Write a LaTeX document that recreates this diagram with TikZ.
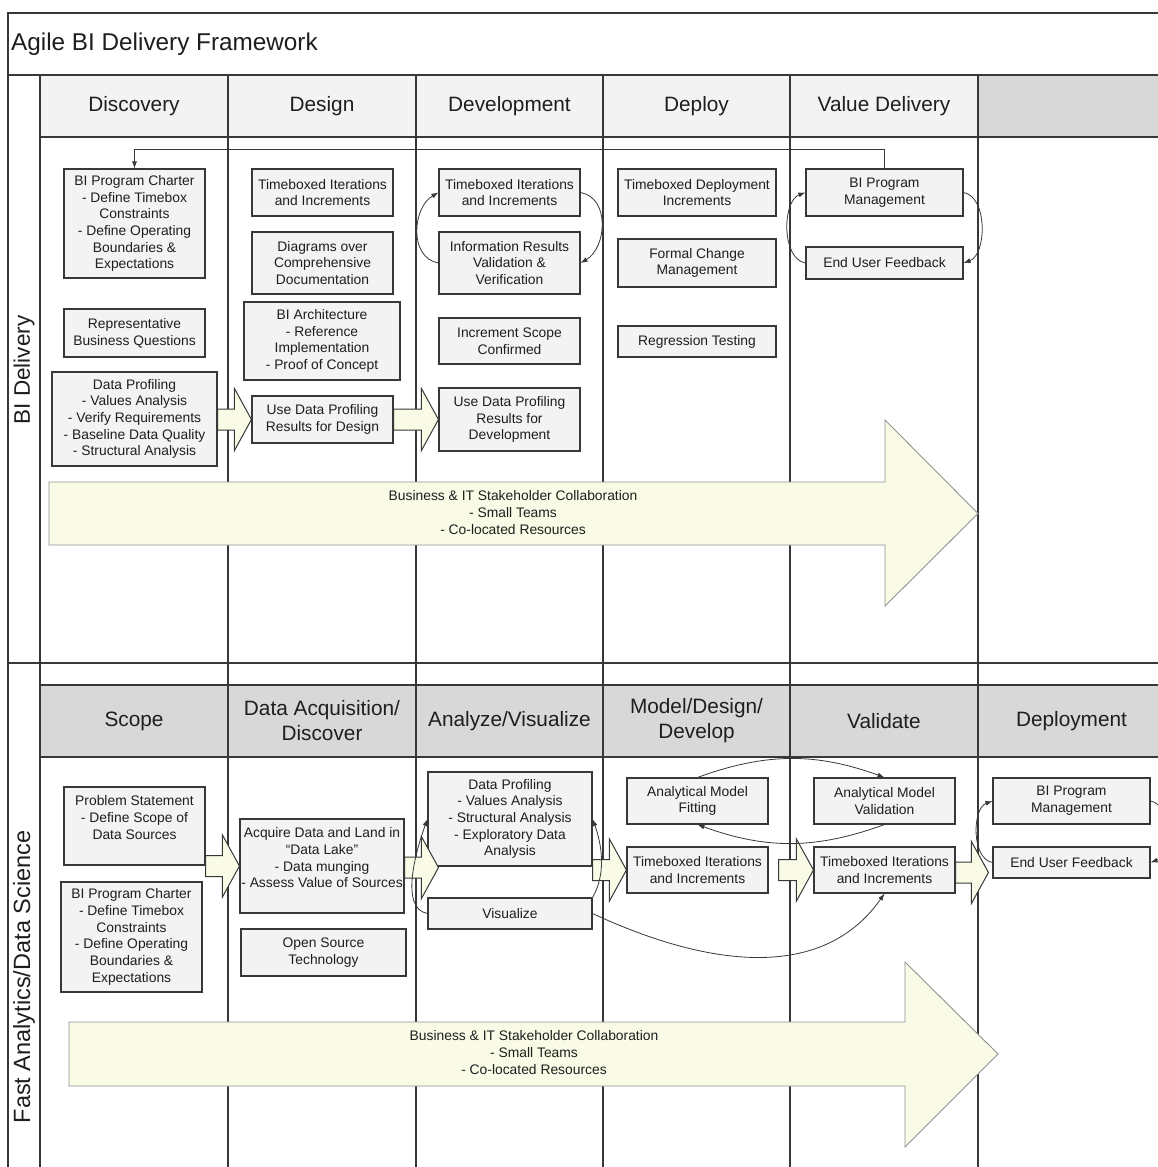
\documentclass[tikz,border=0pt]{standalone}
\usepackage{fontspec}
\setmainfont{Liberation Sans}
\usetikzlibrary{arrows.meta,calc}

\definecolor{hdrlight}{HTML}{F3F3F3}
\definecolor{hdrdark}{HTML}{D8D8D8}
\definecolor{boxfill}{HTML}{F3F3F3}
\definecolor{cream}{HTML}{F9FBE6}
\definecolor{ink}{HTML}{1E1E1E}
\definecolor{rule}{HTML}{383838}

\begin{document}
\begin{tikzpicture}[x=1pt,y=-1pt,
  frame/.style={draw=rule,line width=1.4pt},
  card/.style 2 args={draw=rule,fill=boxfill,line width=1.1pt,minimum width=#1pt,minimum height=#2pt,
    inner sep=0pt,align=center,text=ink,font=\fontsize{13.85}{16.7}\selectfont},
  head/.style={align=center,text=ink,inner sep=0pt,font=\fontsize{20.8}{25}\selectfont},
  lane/.style={rotate=90,text=ink,inner sep=0pt,font=\fontsize{22.5}{26}\selectfont},
  note/.style={align=center,text=ink,inner sep=0pt,font=\fontsize{13.85}{17}\selectfont},
  band/.style={draw=rule!55,fill=cream,line width=0.9pt},
  cyc/.style={draw=rule,line width=0.8pt,-{Latex[length=7pt,width=5pt]}},
  fat/.style={draw=rule,fill=cream,line width=1pt,
    to path={let \p1=(\tikztostart),\p2=(\tikztotarget) in
      (\x1,\y2+10.5pt) -- (\x2-17pt,\y2+10.5pt) -- (\x2-17pt,\y2+31pt) -- (\x2,\y2)
      -- (\x2-17pt,\y2-31pt) -- (\x2-17pt,\y2-10.5pt) -- (\x1,\y2-10.5pt) -- cycle}}]

\useasboundingbox (0,0) rectangle (1158,1167);

\fill[white] (0,0) rectangle (1158,1167);
\filldraw[frame,fill=hdrlight] (40,75) rectangle (978,137);
\filldraw[frame,fill=hdrdark] (978,75) rectangle (1175,137);
\filldraw[frame,fill=hdrdark] (40,685) rectangle (1175,757);
\draw[frame] (8,1180) -- (8,13) -- (1175,13);
\draw[frame] (8,75) -- (1175,75);
\draw[frame] (8,663) -- (1175,663);
\draw[frame] (40,75) -- (40,1180);
\foreach \x in {228,416,603,790,978}
  \draw[frame] (\x,75) -- (\x,1180);

\node[anchor=west,inner sep=0pt,text=ink,font=\fontsize{24.3}{28}\selectfont] (title) at (11,44) {Agile BI Delivery Framework};

\node[lane] (lane1) at (24,370) {BI Delivery};
\node[lane,font=\fontsize{23.5}{27}\selectfont] (lane2) at (24,977) {Fast Analytics/Data Science};

\node[head] (discovery) at (134,106) {Discovery};
\node[head] (design) at (322,106) {Design};
\node[head] (development) at (509.5,106) {Development};
\node[head] (deploy) at (696.5,106) {Deploy};
\node[head] (value) at (884,106) {Value Delivery};

\node[head] (scope) at (134,721) {Scope};
\node[head] (acquisition) at (322,721) {Data Acquisition/\\Discover};
\node[head] (analyze) at (509.5,721) {Analyze/Visualize};
\node[head] (model) at (696.5,721) {Model/Design/\\Develop};
\node[head] (validate) at (884,721) {Validate};
\node[head] (deployment) at (1071.5,721) {Deployment};

\filldraw[band] (49,482) -- (885,482) -- (885,420) -- (978,513.5) -- (885,606) -- (885,545) -- (49,545) -- cycle;
\node[note] (collab1) at (513,513) {Business \& IT Stakeholder Collaboration\\- Small Teams\\- Co-located Resources};
\filldraw[band] (69,1022) -- (905,1022) -- (905,962) -- (998,1054) -- (905,1147) -- (905,1086) -- (69,1086) -- cycle;
\node[note] (collab2) at (534,1053) {Business \& IT Stakeholder Collaboration\\- Small Teams\\- Co-located Resources};

\node[card={141}{109}] (charter1) at (134.5,223.5) {BI Program Charter\\- Define Timebox\\Constraints\\- Define Operating\\Boundaries \&\\Expectations};
\node[card={141}{48}] (questions) at (134.5,333) {Representative\\Business Questions};
\node[card={165}{94}] (profiling1) at (134.5,419) {Data Profiling\\- Values Analysis\\- Verify Requirements\\- Baseline Data Quality\\- Structural Analysis};
\node[card={141}{47}] (timebox1) at (322.5,192.5) {Timeboxed Iterations\\and Increments};
\node[card={141}{62}] (diagrams) at (322.5,263) {Diagrams over\\Comprehensive\\Documentation};
\node[card={156}{78}] (architecture) at (322,341) {BI Architecture\\- Reference\\Implementation\\- Proof of Concept};
\node[card={141}{47}] (usedesign) at (322.5,419.5) {Use Data Profiling\\Results for Design};
\node[card={141}{47}] (timebox2) at (509.5,192.5) {Timeboxed Iterations\\and Increments};
\node[card={141}{62}] (results) at (509.5,263) {Information Results\\Validation \&\\Verification};
\node[card={141}{46}] (increment) at (509.5,341) {Increment Scope\\Confirmed};
\node[card={141}{63}] (usedevel) at (509.5,419.5) {Use Data Profiling\\Results for\\Development};
\node[card={158}{47}] (deploytb) at (697,192.5) {Timeboxed Deployment\\Increments};
\node[card={158}{48}] (change) at (697,263) {Formal Change\\Management};
\node[card={158}{31}] (regression) at (697,341.5) {Regression Testing};
\node[card={157}{47}] (program1) at (884.5,192.5) {BI Program\\Management};
\node[card={157}{32}] (feedback1) at (884.5,263) {End User Feedback};

% text in these two sits high in the box
\node[card={141}{78}] (problem) at (134.5,826) {Problem Statement\\- Define Scope of\\Data Sources\\\mbox{}};
\node[card={141}{110}] (charter2) at (131.5,937) {BI Program Charter\\- Define Timebox\\Constraints\\- Define Operating\\Boundaries \&\\Expectations};
\node[card={164}{94}] (acquire) at (322,866) {Acquire Data and Land in\\``Data Lake''\\- Data munging\\- Assess Value of Sources\\\mbox{}};
\node[card={165}{47}] (opensource) at (323.5,952.5) {Open Source\\Technology};
\node[card={164}{94}] (profiling2) at (510,819) {Data Profiling\\- Values Analysis\\- Structural Analysis\\- Exploratory Data\\Analysis};
\node[card={164}{31}] (visualize) at (510,913.5) {Visualize};
\node[card={141}{46}] (fitting) at (697.5,801) {Analytical Model\\Fitting};
\node[card={141}{46}] (timebox3) at (697.5,870) {Timeboxed Iterations\\and Increments};
\node[card={141}{46}] (validation) at (884.5,801) {Analytical Model\\Validation};
\node[card={141}{46}] (timebox4) at (884.5,870) {Timeboxed Iterations\\and Increments};
\node[card={157}{46}] (program2) at (1071.5,801) {BI Program\\Management};
\node[card={157}{31}] (feedback2) at (1071.5,862.5) {End User Feedback};

\coordinate (profin) at ($(profiling2.south west)+(11,1)$);
\coordinate (tbout) at ($(timebox3.east)+(10,0)$);
\coordinate (fbin) at ($(feedback2.west)+(-4,10)$);

\draw[fat] (profiling1.east) to (usedesign.west);
\draw[fat] (usedesign.east) to (usedevel.west);
\draw[fat] (problem.east) to (acquire.west);
\draw[fat] (acquire.east) to (profin);
\draw[fat] (profiling2.east |- profin) to (timebox3.west);
\draw[fat] (tbout) to (timebox4.west);
\draw[fat] (timebox4.east) to (fbin);

\draw[cyc] (program1.north) -- ++(0,-19) -| (charter1.north);
\draw[cyc] (results.west) to[out=170,in=210,looseness=1.1] (timebox2.west);
\draw[cyc] (timebox2.east) to[out=-10,in=30,looseness=1.1] (results.east);
\draw[cyc] (feedback1.west) to[out=170,in=200,looseness=0.9] (program1.west);
\draw[cyc] (program1.east) to[out=-10,in=20,looseness=0.9] (feedback1.east);

\draw[cyc] (visualize.west) to[out=170,in=250,looseness=0.8] (profiling2.west);
\draw[cyc] (visualize.north east) to[out=60,in=290,looseness=0.9] (profiling2.east);
\draw[cyc] (fitting.north) to[bend left=20] (validation.north);
\draw[cyc] (validation.south) to[bend left=20] (fitting.south);
\draw[cyc] (visualize.east) to[out=-25,in=235] (timebox4.south);
\draw[cyc] (feedback2.west) to[out=170,in=200,looseness=0.9] (program2.west);
\draw[cyc] (program2.east) to[out=-10,in=20,looseness=0.9] (feedback2.east);

\end{tikzpicture}
\end{document}
